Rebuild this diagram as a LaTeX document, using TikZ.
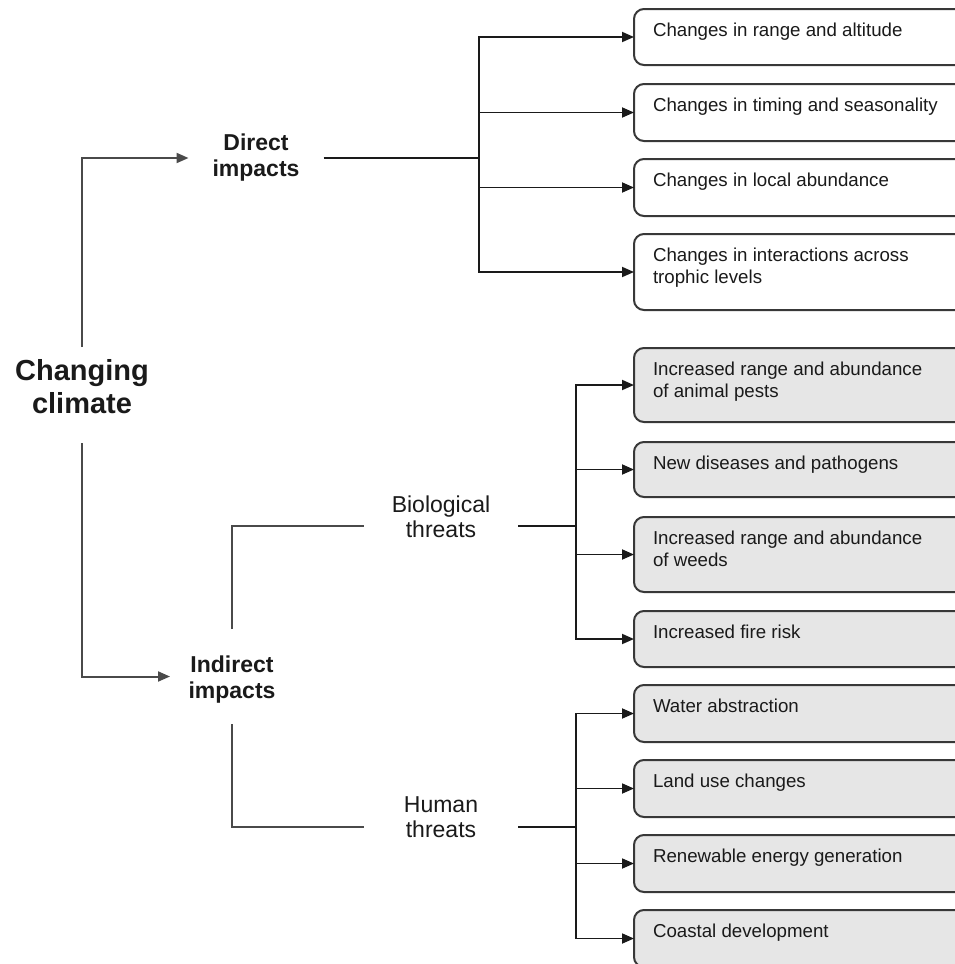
\documentclass[tikz,border=0pt]{standalone}
\usepackage{fontspec}
\setmainfont{Liberation Sans}
\usetikzlibrary{arrows.meta}
\definecolor{boxline}{HTML}{383838}
\definecolor{grayfill}{HTML}{E6E6E6}
\definecolor{conn}{HTML}{1A1A1A}
\definecolor{lconn}{HTML}{4A4A4A}
\definecolor{txt}{HTML}{1A1A1A}
\begin{document}
\begin{tikzpicture}[x=1pt,y=-1pt,
  boxnode/.style={draw=boxline, line width=2pt, rounded corners=10pt, anchor=north west,
    inner xsep=19pt, inner ysep=0pt, outer sep=0pt, text height=27pt, text=txt,
    font=\fontsize{18.7}{22}\selectfont},
  whitebox/.style={boxnode, fill=white},
  graybox/.style={boxnode, fill=grayfill},
  lbl/.style={inner sep=0pt, outer sep=0pt, anchor=base, text=txt},
  boldlbl/.style={lbl, font=\fontsize{23}{26.5}\selectfont\bfseries},
  plainlbl/.style={lbl, font=\fontsize{23}{25}\selectfont},
  arr/.style={-{Triangle[length=12pt,width=10pt]}, line width=1.8pt, draw=conn},
  thinline/.style={line width=1.8pt, draw=conn},
  thickline/.style={line width=2.8pt, draw=conn},
  leftline/.style={line width=2pt, draw=lconn}
]
\clip (0,0) rectangle (955,964);
\fill[white] (0,0) rectangle (955,964);

% Direct impacts boxes
\node[whitebox, text depth=29pt] (d1) at (634,9)   {\parbox[t]{330pt}{Changes in range and altitude}};
\node[whitebox, text depth=30pt] (d2) at (634,84)  {\parbox[t]{330pt}{Changes in timing and seasonality}};
\node[whitebox, text depth=30pt] (d3) at (634,159) {\parbox[t]{330pt}{Changes in local abundance}};
\node[whitebox, text depth=49pt] (d4) at (634,234) {\parbox[t]{330pt}{Changes in interactions across\\trophic levels}};

% Biological threats boxes
\node[graybox, text depth=47pt] (b1) at (634,348) {\parbox[t]{330pt}{Increased range and abundance\\of animal pests}};
\node[graybox, text depth=28pt] (b2) at (634,442) {\parbox[t]{330pt}{New diseases and pathogens}};
\node[graybox, text depth=48pt] (b3) at (634,517) {\parbox[t]{330pt}{Increased range and abundance\\of weeds}};
\node[graybox, text depth=29pt] (b4) at (634,611) {\parbox[t]{330pt}{Increased fire risk}};

% Human threats boxes
\node[graybox, text depth=30pt] (h1) at (634,685) {\parbox[t]{330pt}{Water abstraction}};
\node[graybox, text depth=30pt] (h2) at (634,760) {\parbox[t]{330pt}{Land use changes}};
\node[graybox, text depth=30pt] (h3) at (634,835) {\parbox[t]{330pt}{Renewable energy generation}};
\node[graybox, text depth=30pt] (h4) at (634,910) {\parbox[t]{330pt}{Coastal development}};

% Labels
\node[lbl, font=\fontsize{29}{33}\selectfont\bfseries, anchor=north, text height=33pt, text depth=63pt] (climate) at (82,347)
  {\parbox[t]{160pt}{\centering Changing\\climate}};
\node[boldlbl, text height=25pt, text depth=41pt] (direct) at (256,150)
  {\parbox[t]{135pt}{\centering Direct\\impacts}};
\node[boldlbl, text height=43pt, text depth=52pt] (indirect) at (232,672)
  {\parbox[t]{124pt}{\centering Indirect\\impacts}};
\node[plainlbl, text height=20pt, text depth=48pt] (bio) at (441,512)
  {\parbox[t]{154pt}{\centering Biological\\threats}};
\node[plainlbl, text height=20pt, text depth=50pt] (human) at (441,812)
  {\parbox[t]{154pt}{\centering Human\\threats}};

% Junction coordinates
\coordinate (dj) at (479,158);
\coordinate (bj) at (576,526);
\coordinate (hj) at (576,827);

% Connectors from climate
\draw[arr, draw=lconn, line width=2pt] (climate.north) |- (direct.west);
\draw[arr, draw=lconn, line width=2pt] (climate.south) |- (indirect.west);
\draw[leftline] (indirect.north) |- (bio.west);
\draw[leftline] (indirect.south) |- (human.west);

% Direct fan
\draw[thickline] (direct.east) -- (dj);
\foreach \b in {d1,d2,d3,d4} \draw[arr] (dj) |- (\b.west);

% Biological fan
\draw[thinline] (bio.east) -- (bj);
\foreach \b in {b1,b2,b3,b4} \draw[arr] (bj) |- (\b.west);

% Human fan
\draw[thickline] (human.east) -- (hj);
\foreach \b in {h1,h2,h3,h4} \draw[arr] (hj) |- (\b.west);
\end{tikzpicture}
\end{document}
